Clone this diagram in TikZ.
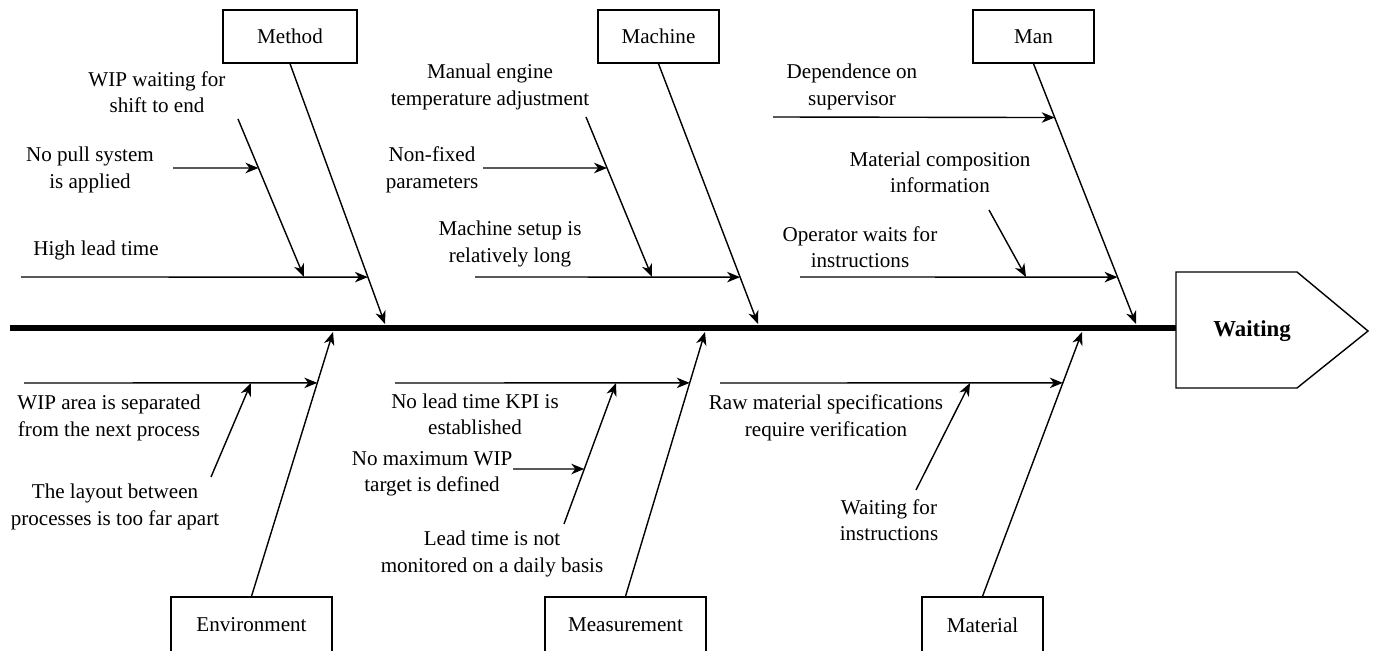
\documentclass[tikz,border=0pt]{standalone}
\usepackage{fontspec}
\setmainfont{Liberation Serif}
\usetikzlibrary{arrows.meta,calc}

\begin{document}
\begin{tikzpicture}[x=0.02cm,y=-0.02cm,
  bone/.style={line width=0.8pt,-{Stealth[length=2.6mm,width=2.1mm,inset=0.8mm]}},
  catbox/.style={draw,line width=0.8pt,minimum height=1.06cm,inner sep=0pt,
    font=\fontsize{12}{15}\selectfont},
  cause/.style={align=center,font=\fontsize{12}{15}\selectfont,inner sep=1pt},
]
\useasboundingbox (0,0) rectangle (1376,651);
\clip (0,0) rectangle (1376,651);

% ---- spine and head ----
\coordinate (tail) at (10,328);
\coordinate (neck) at (1176,328);
\draw[line width=3.8pt] (tail) -- (neck);
\coordinate (h1) at (1176,272);
\coordinate (h2) at (1297,272);
\coordinate (h3) at (1368,331);
\coordinate (h4) at (1297,388);
\coordinate (h5) at (1176,388);
\draw[line width=0.8pt,fill=white] (h1) -- (h2) -- (h3) -- (h4) -- (h5) -- cycle;
\node[font=\fontsize{13}{15}\selectfont\bfseries] (head) at (1252,331) {Waiting};

% ---- category boxes ----
\node[catbox,minimum width=2.68cm] (method)  at (290,36.5)   {Method};
\node[catbox,minimum width=2.42cm] (machine) at (658.5,36.5) {Machine};
\node[catbox,minimum width=2.42cm] (man)     at (1033.5,36.5){Man};
\node[catbox,minimum width=3.22cm,minimum height=1.12cm] (env)  at (251.5,625) {Environment};
\node[catbox,minimum width=3.22cm,minimum height=1.12cm] (meas) at (625.5,625) {Measurement};
\node[catbox,minimum width=2.42cm,minimum height=1.12cm] (mat)  at (982.5,625) {Material};

% ---- main bones ----
\coordinate (sMethod)  at (385,324);
\coordinate (sMachine) at (758,324);
\coordinate (sMan)     at (1136,324);
\coordinate (sEnv)     at (333,332);
\coordinate (sMeas)    at (705,332);
\coordinate (sMat)     at (1082,332);
\draw[bone] (method.south)  -- (sMethod);
\draw[bone] (machine.south) -- (sMachine);
\draw[bone] (man.south)     -- (sMan);
\draw[bone] (env.north)     -- (sEnv);
\draw[bone] (meas.north)    -- (sMeas);
\draw[bone] (mat.north)     -- (sMat);

% ---- Method causes ----
\node[cause] (tHigh) at (96,250)  {High lead time};
\node[cause] (tWip)  at (157,92)  {WIP waiting for\\shift to end};
\node[cause] (tPull) at (90,170)  {No pull system\\is applied};
\coordinate (hl0) at (21,277);
\coordinate (hl1) at ($(method.south)!0.8199!(sMethod)$);
\draw[bone] (hl0) -- (hl1);
\coordinate (wp0) at (238,119);
\coordinate (wp1) at (304,277);
\draw[bone] (wp0) -- (wp1);
\coordinate (np0) at (173,168);
\coordinate (np1) at ($(wp0)!0.3101!(wp1)$);
\draw[bone] (np0) -- (np1);

% ---- Machine causes ----
\node[cause] (tManual) at (490,87)  {Manual engine\\temperature adjustment};
\node[cause] (tNonfix) at (432,170) {Non-fixed\\parameters};
\node[cause] (tSetup)  at (510,244) {Machine setup is\\relatively long};
\coordinate (ms0) at (475,277);
\coordinate (ms1) at ($(machine.south)!0.8199!(sMachine)$);
\draw[bone] (ms0) -- (ms1);
\coordinate (me0) at (586,117);
\coordinate (me1) at (652,277);
\draw[bone] (me0) -- (me1);
\coordinate (nf0) at (483,168);
\coordinate (nf1) at ($(me0)!0.3188!(me1)$);
\draw[bone] (nf0) -- (nf1);

% ---- Man causes ----
\node[cause] (tDep)     at (852,87)  {Dependence on\\supervisor};
\node[cause] (tMatcomp) at (940,172) {Material composition\\information};
\node[cause] (tOper)    at (860,247) {Operator waits for\\instructions};
\coordinate (dp0) at (773,117);
\coordinate (dp1) at ($(man.south)!0.2069!(sMan)$);
\draw[bone] (dp0) -- (dp1);
\coordinate (op0) at (800,277);
\coordinate (op1) at ($(man.south)!0.8199!(sMan)$);
\draw[bone] (op0) -- (op1);
\coordinate (mc0) at (989,210);
\coordinate (mc1) at (1026,277);
\draw[bone] (mc0) -- (mc1);

% ---- Environment causes ----
\node[cause] (tArea)   at (109,418) {WIP area is separated\\from the next process};
\node[cause] (tLayout) at (115,507) {The layout between\\processes is too far apart};
\coordinate (wa0) at (24,383);
\coordinate (wa1) at ($(env.north)!0.8075!(sEnv)$);
\draw[bone] (wa0) -- (wa1);
\coordinate (ly0) at (211,477);
\coordinate (ly1) at (251,383);
\draw[bone] (ly0) -- (ly1);

% ---- Measurement causes ----
\node[cause] (tKpi)    at (475,414) {No lead time KPI is\\established};
\node[cause] (tMaxwip) at (432,474) {No maximum WIP\\target is defined};
\node[cause] (tLead)   at (492,554) {Lead time is not\\monitored on a daily basis};
\coordinate (kp0) at (395,383);
\coordinate (kp1) at ($(meas.north)!0.8075!(sMeas)$);
\draw[bone] (kp0) -- (kp1);
\coordinate (lt0) at (564,524);
\coordinate (lt1) at (616,383);
\draw[bone] (lt0) -- (lt1);
\coordinate (mw0) at (513,469);
\coordinate (mw1) at ($(lt0)!0.3901!(lt1)$);
\draw[bone] (mw0) -- (mw1);

% ---- Material causes ----
\node[cause] (tRaw)  at (826,418) {Raw material specifications\\require verification};
\node[cause] (tWait) at (889,520) {Waiting for\\instructions};
\coordinate (rw0) at (720,383);
\coordinate (rw1) at ($(mat.north)!0.8075!(sMat)$);
\draw[bone] (rw0) -- (rw1);
\coordinate (wi0) at (916,490);
\coordinate (wi1) at (970,383);
\draw[bone] (wi0) -- (wi1);

\end{tikzpicture}
\end{document}
